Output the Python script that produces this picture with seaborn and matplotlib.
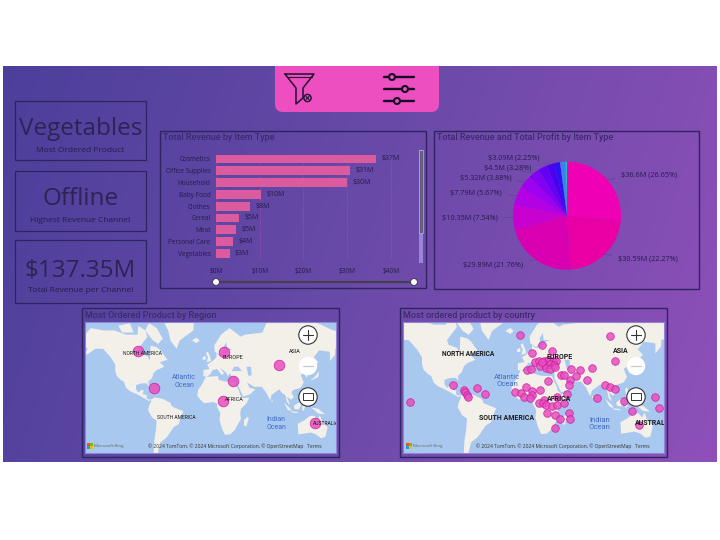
import numpy as np
import pandas as pd
import seaborn as sns
from matplotlib import pyplot as plt
from matplotlib.colors import LinearSegmentedColormap
from matplotlib.patches import Circle, FancyBboxPatch, Polygon, Rectangle

# revenue by item type ($M)
item_types = ["Cosmetics", "Office Supplies", "Household", "Baby Food", "Clothes",
              "Cereal", "Meat", "Personal Care", "Vegetables"]
item_revenue = [36.6, 30.59, 29.89, 10.35, 7.79, 5.32, 4.5, 3.98, 3.09]
bar_labels = ["$37M", "$31M", "$30M", "$10M", "$8M", "$5M", "$5M", "$4M", "$3M"]
bar_ticks = [0, 10, 20, 30, 40]
bar_tick_labels = ["$0M", "$10M", "$20M", "$30M", "$40M"]

# pie slices, the last ones have no label in the picture
pie_values = [36.6, 30.59, 29.89, 10.35, 7.79, 5.32, 4.5, 3.98, 3.09, 2.4, 2.2, 0.64]
pie_colors = ["#f000b4", "#e800a4", "#d800b0", "#c800d0", "#b400e4", "#a000f0",
              "#8400f2", "#6600f4", "#4a00f0", "#2a10f6", "#4080ee", "#20c0c8"]
pie_labels = ["$36.6M (26.65%)", "$30.59M (22.27%)", "$29.89M (21.76%)", "$10.35M (7.54%)",
              "$7.79M (5.67%)", "$5.32M (3.88%)", "$4.5M (3.28%)", None, "$3.09M (2.25%)",
              None, None, None]

kpi_values = ["Vegetables", "Offline", "$137.35M"]
kpi_names = ["Most Ordered Product", "Highest Revenue Channel", "Total Revenue per Channel"]

# bubbles, x is longitude and y is mercator latitude in degrees
region_lon = [-94, 18, 89, 30, -73, 17, 137]
region_my = [72, 71, 54, 33, 24, 7, -22]
country_lon = [-7, 102, 20, 32, 8, 108, 80, 66, 55, 2, 7, 11, 16, 22, 27, 33, 37, 17, 23, 29, 34, 25,
               30, 35, 20, 43, 46, 61, 54, 74, 52, 27, 95, 101, 108, -87, -74, -72, -70, -69, -58,
               -48, -138, -13, -5, 1, 8, 8, -2, 5, 18, 50, 38, 86, 118, 155, 160, 128, 136, 22, 16,
               21, 25, 32, 38, 46, 26, 36, 52, 42, 54, 36]
country_my = [81, 80, 70, 62, 60, 50, 42, 40, 41, 40, 41, 49, 50, 51, 52, 50, 51, 45, 46, 47, 46, 42,
              41, 43, 49, 34, 34, 32, 28, 28, 22, 26, 22, 20, 17, 22, 16, 13, 10, 8, 18,
              11, 1, 14, 12, 19, 15, 10, 7, 6, 16, 11, 7, 6, 3, 7, -6, -9, -26, 4, 0,
              0, -2, -3, -2, 0, -12, -14, -12, -19, -19, -30]

# rough coastlines as (lon, lat)
north_america = [(-168, 66), (-156, 71), (-140, 70), (-125, 70), (-110, 68), (-95, 68), (-94, 72), (-85, 70),
                 (-82, 67), (-94, 60), (-92, 57), (-82, 55), (-79, 51), (-78, 62), (-70, 61), (-65, 59),
                 (-56, 52), (-66, 50), (-60, 46), (-70, 43), (-74, 40), (-76, 35), (-81, 31), (-80, 25),
                 (-83, 29), (-90, 29), (-97, 27), (-97, 22), (-94, 18), (-90, 21), (-87, 21), (-88, 16),
                 (-83, 15), (-83, 10), (-78, 9), (-80, 7), (-85, 10), (-92, 14), (-96, 16), (-105, 20),
                 (-110, 24), (-113, 31), (-117, 33), (-122, 37), (-124, 42), (-124, 48), (-130, 54),
                 (-140, 60), (-150, 60), (-158, 57), (-165, 55), (-160, 60), (-165, 62)]
south_america = [(-78, 9), (-72, 12), (-62, 10), (-52, 5), (-50, 0), (-35, -6), (-39, -15), (-41, -22),
                 (-48, -26), (-54, -34), (-58, -38), (-65, -42), (-68, -50), (-68, -55), (-74, -52),
                 (-73, -40), (-71, -30), (-70, -18), (-76, -14), (-81, -5), (-80, 1), (-77, 7)]
africa = [(-6, 36), (10, 37), (11, 33), (20, 31), (32, 31), (35, 24), (37, 21), (39, 15), (43, 11), (51, 12),
          (47, 4), (40, -3), (39, -10), (40, -16), (35, -24), (32, -29), (26, -34), (19, -34.5), (15, -27),
          (12, -17), (13, -8), (9, -1), (9, 4), (4, 6), (-4, 5), (-8, 4.5), (-13, 9), (-17, 14), (-16, 21),
          (-10, 29)]
eurasia = [(-9, 37), (-9, 43), (-1, 44), (-4, 48), (3, 51), (8, 54), (8, 57), (12, 55), (20, 55), (24, 59),
           (30, 60), (22, 60), (21, 64), (24, 66), (17, 61), (18, 59), (13, 55.5), (6, 58), (5, 62), (14, 68),
           (25, 71), (40, 67), (45, 68), (68, 69), (73, 73), (90, 76), (105, 77), (113, 74), (140, 73),
           (160, 70), (180, 69), (180, 65), (178, 62), (163, 60), (163, 56), (156, 51), (156, 58), (142, 59),
           (135, 54), (141, 50), (130, 42), (127, 39), (126, 35), (122, 40), (118, 38), (122, 30), (118, 24),
           (108, 21), (106, 18), (109, 12), (105, 9), (100, 13), (104, 2), (100, 6), (98, 15), (94, 17),
           (90, 22), (80, 15), (78, 8), (73, 18), (67, 25), (57, 25), (52, 28), (48, 30), (51, 24), (59, 22),
           (52, 16), (43, 13), (39, 21), (35, 28), (35, 36), (28, 36), (26, 40), (23, 37), (20, 41), (13, 45),
           (18, 40), (15, 38), (9, 44), (3, 43), (0, 39), (-5, 36)]
australia = [(114, -22), (122, -18), (130, -12), (136, -12), (140, -17), (143, -11), (146, -19), (153, -26),
             (150, -37), (144, -38), (138, -34), (131, -32), (124, -33), (115, -34)]
islands = [
    [(-70, 78), (-40, 83), (-20, 80), (-22, 70), (-40, 65), (-44, 60), (-52, 65), (-55, 70)],
    [(-80, 73), (-70, 71), (-62, 66), (-68, 63), (-75, 65), (-85, 70)],
    [(-120, 72), (-105, 73), (-100, 69), (-115, 69)],
    [(-24, 65), (-18, 66.5), (-14, 65), (-18, 63.5)],
    [(-5, 50), (1, 51), (0, 54), (-3, 58), (-6, 57), (-3, 54)],
    [(-10, 52), (-6, 52), (-6, 55), (-10, 54)],
    [(44, -17), (49, -13), (50, -16), (47, -25), (44, -24)],
    [(130, 32), (136, 34), (141, 36), (142, 42), (140, 40), (136, 36)],
    [(109, 1), (113, 4), (118, 6), (118, 1), (115, -4), (110, -3)],
    [(96, 5), (104, -2), (106, -6), (101, -4)],
    [(106, -6), (114, -7), (114, -8.5), (106, -7.5)],
    [(120, 1), (124, 1), (122, -5), (120, -5)],
    [(131, -1), (141, -3), (150, -10), (141, -9), (135, -4)],
    [(120, 18), (122, 18), (124, 13), (126, 7), (122, 8), (120, 14)],
    [(-84, 22), (-75, 20), (-78, 20), (-82, 22)],
    [(-74, 19), (-69, 19), (-69, 18), (-74, 18)],
    [(80, 9), (82, 7), (80, 6)],
    [(167, -46), (173, -41), (178, -38), (175, -36), (172, -42), (168, -47)],
]
inland_water = [
    [(28, 42), (31, 46), (37, 46), (41, 42), (35, 42)],
    [(47, 46), (53, 46), (54, 38), (50, 37)],
]

ink = "#2f2255"
text_dark = "#241b4c"
land = "#f3f0ea"
ocean = "#a9c8ef"
bubble = "#e94fc0"
panel_edge = "#2e2560"
ui_font = ["Open Sans", "DejaVu Sans"]
title_font = ["Roboto", "DejaVu Sans"]

sns.set_theme(style="white")
plt.rcParams["font.family"] = ui_font

W, H = 720, 540
fig = plt.figure(figsize=(W / 100, H / 100), dpi=100, facecolor="white")


def px_axes(left, top, right, bottom, zorder=2):
    """axes placed with pixel coordinates from the top left corner"""
    ax = fig.add_axes([left / W, 1 - bottom / H, (right - left) / W, (bottom - top) / H], zorder=zorder)
    ax.patch.set_alpha(0)
    return ax


def merc(lat):
    return np.degrees(np.log(np.tan(np.pi / 4 + np.radians(lat) / 2)))


# page background with the blue to purple gradient
bg = px_axes(3, 66, 717, 462, zorder=0)
cmap = LinearSegmentedColormap.from_list("page", ["#4c3f9b", "#6a4aa8", "#8f50ba"], N=1024)
xx, yy = np.meshgrid(np.linspace(0, 1, 714), np.linspace(0, 1, 396))
bg.imshow(0.85 * xx + 0.15 * yy, cmap=cmap, aspect="auto", vmin=0, vmax=1, interpolation="bilinear")
bg.axis("off")

# everything that is only page furniture goes here, in pixels
page = px_axes(0, 0, W, H, zorder=1)
page.set_xlim(0, W)
page.set_ylim(H, 0)
page.axis("off")

# top tab
page.add_patch(FancyBboxPatch((275, 40), 164, 72, boxstyle="round,pad=0,rounding_size=8",
                              mutation_aspect=1, fc="#ee4fc0", ec="none"))
page.add_patch(Rectangle((0, 0), W, 66, fc="white", ec="none", zorder=3))

# funnel icon
page.plot([285, 314, 303, 303, 296, 296, 285], [74, 74, 88, 98, 104, 88, 74], color="#1d1230", lw=1.1)
page.plot([287, 312], [77, 77], color="#1d1230", lw=0.8)
page.add_patch(Circle((307.5, 98), 3.6, fc="none", ec="#1d1230", lw=1))
page.plot([306, 309], [96.5, 99.5], color="#1d1230", lw=0.8)
page.plot([306, 309], [99.5, 96.5], color="#1d1230", lw=0.8)
# slider icon
for yy_icon, xx_icon in zip([77, 89, 101], [392, 405, 397]):
    page.plot([384, 414], [yy_icon, yy_icon], color="#150d25", lw=1.7)
    page.add_patch(Circle((xx_icon, yy_icon), 3, fc="#ee4fc0", ec="#150d25", lw=1.5, zorder=4))

# KPI cards
for (top, bottom), value, name, name_y in zip([(101, 160), (171, 231), (240, 303)], kpi_values, kpi_names,
                                              [150, 220, 291]):
    page.add_patch(Rectangle((15, top), 131, bottom - top, fc="none", ec=panel_edge, lw=0.9))
    page.text(80.5, name_y - 21, value, fontsize=17.5, color=ink, ha="center", va="center")
    page.text(80.5, name_y, name, fontsize=6, color=text_dark, ha="center", va="center")

# panels
for left, top, right, bottom, title in [(160, 131, 426, 288, "Total Revenue by Item Type"),
                                        (434, 131, 699, 289, "Total Revenue and Total Profit by Item Type"),
                                        (82, 308, 339, 457, "Most Ordered Product by Region"),
                                        (400, 308, 667, 457, "Most ordered product by country")]:
    page.add_patch(Rectangle((left, top), right - left, bottom - top, fc="none", ec=panel_edge, lw=1))
    page.text(left + 3, top + 7, title, fontsize=6.5, color="#3a2c6c", ha="left", va="center",
              family=title_font, fontweight="medium")

# bars
df = pd.DataFrame({"item": item_types, "revenue": item_revenue})
ax = px_axes(216, 153.1, 417, 259.2)
sns.barplot(data=df, x="revenue", y="item", color="#dc5a9e", saturation=1, width=0.74, ax=ax, orient="h",
            linewidth=0, edgecolor="none")
ax.bar_label(ax.containers[0], labels=bar_labels, padding=4, fontsize=5, color=text_dark)
ax.set_xlim(0, 46)
ax.set_xticks(bar_ticks, bar_tick_labels)
ax.set_xlabel("")
ax.set_ylabel("")
ax.tick_params(length=0, labelsize=4.7, labelcolor=text_dark, colors=text_dark)
ax.tick_params(axis="x", pad=6)
ax.tick_params(axis="y", pad=4)
ax.xaxis.grid(True, color="#c04aa8", lw=0.6, ls=":")
ax.set_axisbelow(True)
sns.despine(ax=ax, left=True, bottom=True)

# scroll bar and range slider of the bar chart
page.add_patch(Rectangle((418.5, 150), 4, 113, fc="#9a86d8", ec="none"))
page.add_patch(Rectangle((418.5, 150), 4, 83, fc="#62607f", ec="#c8c4e0", lw=0.4))
page.plot([216, 414], [282, 282], color="#454050", lw=1.6)
for slider_x in [216, 414]:
    page.add_patch(Circle((slider_x, 282), 3.4, fc="white", ec="#333040", lw=0.6, zorder=4))

# pie
pie_ax = px_axes(567 - 67.5, 215.7 - 67.5, 567 + 67.5, 215.7 + 67.5)
wedges, _ = pie_ax.pie(pie_values, colors=pie_colors, startangle=90, counterclock=False, radius=1,
                       wedgeprops={"lw": 0})
pie_ax.set_xlim(-1.25, 1.25)
pie_ax.set_ylim(-1.25, 1.25)
# where each label sits on the page: x, y, alignment
label_spots = [(621, 175, "left"), (618, 259, "left"), (523, 265, "right"), (498, 218, "right"),
               (502, 193, "right"), (511, 178, "right"), (531, 168, "right"), None, (539, 158, "right"),
               None, None, None]
for wedge, label, spot in zip(wedges, pie_labels, label_spots):
    if label is None:
        continue
    mid = np.radians((wedge.theta1 + wedge.theta2) / 2)
    pie_ax.annotate(label, xy=(np.cos(mid), np.sin(mid)), xycoords="data",
                    xytext=spot[:2], textcoords=page.transData, ha=spot[2], va="center",
                    fontsize=5.2, color=text_dark, annotation_clip=False,
                    arrowprops={"arrowstyle": "-", "color": "#5c4590", "lw": 0.5, "shrinkA": 2, "shrinkB": 0})


def draw_map(rect, xlim, ylim, lons, mys, size, labels):
    left, top, right, bottom = rect
    m = px_axes(left, top, right, bottom)
    m.patch.set_alpha(1)
    m.patch.set_facecolor(ocean)
    for shape in [north_america, south_america, africa, eurasia, australia] + islands:
        pts = np.array(shape, dtype=float)
        m.add_patch(Polygon(np.column_stack([pts[:, 0], merc(pts[:, 1])]), fc=land, ec="none", zorder=1))
    for shape in inland_water:
        pts = np.array(shape, dtype=float)
        m.add_patch(Polygon(np.column_stack([pts[:, 0], merc(pts[:, 1])]), fc=ocean, ec="none", zorder=1.1))
    for lon, my, label, weight, color, fs in labels:
        m.text(lon, my, label, ha="center", va="center", fontsize=fs, color=color, fontweight=weight,
               family=title_font, zorder=4, linespacing=1.1, clip_on=True)
    sns.scatterplot(x=lons, y=mys, s=size, color=bubble, alpha=0.85, edgecolor="#c9209c", linewidth=0.6,
                    ax=m, zorder=3, legend=False)
    m.set_xlim(*xlim)
    m.set_ylim(*ylim)
    m.set_xticks([])
    m.set_yticks([])
    for spine in m.spines.values():
        spine.set_color("#8f86d8")
        spine.set_linewidth(0.8)
    return m


black, blue = "#1c1c1c", "#3f6cc4"
region_map_labels = [(-88, 69, "NORTH AMERICA", "normal", black, 3.6), (30, 64, "EUROPE", "normal", black, 4),
                     (110, 72, "ASIA", "normal", black, 4), (31, 9, "AFRICA", "normal", black, 4),
                     (-34, 33, "Atlantic\nOcean", "normal", blue, 5), (86, -22, "Indian\nOcean", "normal", blue, 5),
                     (-44, -14, "SOUTH AMERICA", "normal", black, 3.6), (151, -22, "AUSTRALIA", "normal", black, 3.6)]
country_map_labels = [(-68, 59, "NORTH AMERICA", "bold", black, 4.8), (41, 55, "EUROPE", "bold", black, 5),
                      (114, 62, "ASIA", "bold", black, 5), (40, 5, "AFRICA", "bold", black, 5),
                      (-22, 27, "Atlantic\nOcean", "normal", blue, 5.5), (89, -24, "Indian\nOcean", "normal", blue, 5.5),
                      (-22, -17, "SOUTH AMERICA", "bold", black, 5), (150, -23, "AUSTRAL", "bold", black, 5)]

draw_map((85, 322.3, 336, 453.3), (-163.5, 164), (-60.9, 110), region_lon, region_my, 58, region_map_labels)
draw_map((403, 322, 663.7, 452.7), (-146.8, 166), (-59, 97), country_lon, country_my, 30, country_map_labels)

# map controls and small print, on top of the map axes
over = px_axes(0, 0, W, H, zorder=5)
over.set_xlim(0, W)
over.set_ylim(H, 0)
over.axis("off")
for cx, bing_x, credit_right in [(308, 87, 322), (636, 406, 650)]:
    over.add_patch(Circle((cx, 335), 9.2, fc="white", ec="#333333", lw=0.8))
    over.plot([cx - 5, cx + 5], [335, 335], color="#333333", lw=0.8)
    over.plot([cx, cx], [330, 340], color="#333333", lw=0.8)
    over.add_patch(Circle((cx, 366), 9.2, fc="white", ec="none"))
    over.plot([cx - 5, cx + 5], [366, 366], color="#c8c8c8", lw=0.9)
    over.add_patch(Circle((cx, 397), 9.2, fc="white", ec="#333333", lw=0.8))
    over.add_patch(Rectangle((cx - 5, 393), 10, 7, fc="none", ec="#333333", lw=0.7))
    # the four small squares of the logo
    for dx, dy, c in [(0, 0, "#f25022"), (3, 0, "#7fba00"), (0, 3, "#00a4ef"), (3, 3, "#ffb900")]:
        over.add_patch(Rectangle((bing_x + dx, 443 + dy), 2.8, 2.8, fc=c, ec="none"))
    over.text(bing_x + 7, 446, "Microsoft Bing", fontsize=3.2, color="#666666", va="center")
    over.text(credit_right, 446.5, "© 2024 TomTom, © 2024 Microsoft Corporation, © OpenStreetMap   Terms",
              fontsize=3.6, color="#333333", ha="right", va="center")

fig.savefig("out.png", dpi=100)
